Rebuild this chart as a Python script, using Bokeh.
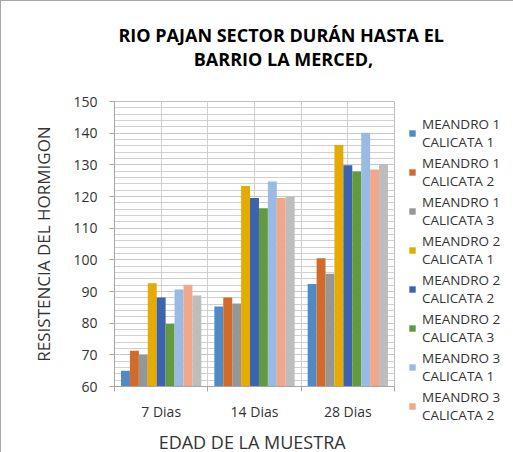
from bokeh.plotting import figure
from bokeh.models import ColumnDataSource, Range1d, FixedTicker, Legend, LegendItem, Title
from bokeh.transform import dodge
from bokeh.embed import file_html
from bokeh.resources import INLINE

title_lines = ["RIO PAJAN  SECTOR DURÁN HASTA EL", "BARRIO LA MERCED,"]
categories = ["7 Dias", "14 Dias", "28 Dias"]
series = [
    "MEANDRO 1\nCALICATA 1", "MEANDRO 1\nCALICATA 2", "MEANDRO 1\nCALICATA 3",
    "MEANDRO 2\nCALICATA 1", "MEANDRO 2\nCALICATA 2", "MEANDRO 2\nCALICATA 3",
    "MEANDRO 3\nCALICATA 1", "MEANDRO 3\nCALICATA 2", "MEANDRO 3\nCALICATA 3",
]
m1c1 = [65.0, 85.3, 92.4]
m1c2 = [71.3, 88.1, 100.5]
m1c3 = [70.0, 86.2, 95.6]
m2c1 = [92.6, 123.3, 136.3]
m2c2 = [88.1, 119.5, 129.9]
m2c3 = [79.7, 116.3, 127.9]
m3c1 = [90.6, 124.7, 140.1]
m3c2 = [92.1, 119.5, 128.5]
m3c3 = [88.7, 119.9, 130.2]
values = [m1c1, m1c2, m1c3, m2c1, m2c2, m2c3, m3c1, m3c2, m3c3]
y_ticks = list(range(60, 151, 10))
y_minor = list(range(60, 151, 2))

colors = ["#4e8ac6", "#d26b2a", "#969696", "#e5ab00", "#3b63ae",
          "#619b3e", "#99bae2", "#f0a78a", "#bdbdbd"]

FONT = "Open Sans"
TXT = "#333333"

data = {"x": [i + 0.5 for i in range(len(categories))]}
for i, v in enumerate(values):
    data["s%d" % i] = v
source = ColumnDataSource(data)

p = figure(frame_width=280, frame_height=285, output_backend="svg", toolbar_location=None,
           x_range=Range1d(0, len(categories)), y_range=Range1d(60, 150), title=None)
p.min_border_left = 113
p.min_border_right = 120
p.min_border_top = 100
p.min_border_bottom = 67
p.outline_line_color = "#bfbfbf"
p.styles = {"border-left": "1px solid #a6a6a6", "border-top": "1px solid #a6a6a6"}

bw = 0.0956
renderers = []
for i in range(len(values)):
    off = (i - (len(values) - 1) / 2) * bw
    r = p.vbar(x=dodge("x", off, range=p.x_range), top="s%d" % i, bottom=60,
               width=bw, source=source, fill_color=colors[i], line_color=None)
    renderers.append(r)

# title (two centred lines; lower one added first so it sits nearest the plot)
# padding tuple is (left, right, top, bottom)
t2 = Title(text=title_lines[1], align="center", standoff=0, vertical_align="top",
           padding=(58, 0, 0, 29),
           text_font=FONT, text_font_size="18px", text_font_style="bold",
           text_color="#000000")
p.add_layout(t2, "above")
t1 = Title(text=title_lines[0], align="center", standoff=0, vertical_align="bottom",
           padding=(58, 0, 0, 0),
           text_font=FONT, text_font_size="18px", text_font_style="bold",
           text_color="#000000")
p.add_layout(t1, "above")

# y axis
p.yaxis.ticker = FixedTicker(ticks=y_ticks, minor_ticks=y_minor)
p.yaxis.axis_label = "RESISTENCIA DEL HORMIGON"
p.yaxis.axis_label_text_font = FONT
p.yaxis.axis_label_text_font_size = "17px"
p.yaxis.axis_label_text_font_style = "normal"
p.yaxis.axis_label_text_color = TXT
p.yaxis.axis_label_standoff = 15
p.yaxis.major_label_text_font = FONT
p.yaxis.major_label_text_font_size = "14px"
p.yaxis.major_label_text_color = TXT
p.yaxis.major_label_standoff = 12
p.yaxis.major_tick_in = 0
p.yaxis.major_tick_out = 5
p.yaxis.minor_tick_line_color = None
p.yaxis.axis_line_color = "#a6a6a6"
p.yaxis.major_tick_line_color = "#a6a6a6"

# x axis
centers = [i + 0.5 for i in range(len(categories))]
bounds = list(range(len(categories) + 1))
p.xaxis.ticker = FixedTicker(ticks=centers, minor_ticks=bounds)
p.xaxis.major_label_overrides = {c: categories[i] for i, c in enumerate(centers)}
p.xaxis.axis_label = "EDAD  DE LA MUESTRA"
p.xaxis.axis_label_text_font = FONT
p.xaxis.axis_label_text_font_size = "18px"
p.xaxis.axis_label_text_font_style = "normal"
p.xaxis.axis_label_text_color = TXT
p.xaxis.axis_label_standoff = 6
p.xaxis.major_label_text_font = FONT
p.xaxis.major_label_text_font_size = "14px"
p.xaxis.major_label_text_color = TXT
p.xaxis.major_label_standoff = 10
p.xaxis.major_tick_line_color = None
p.xaxis.major_tick_in = 0
p.xaxis.major_tick_out = 0
p.xaxis.minor_tick_in = 0
p.xaxis.minor_tick_out = 5
p.xaxis.minor_tick_line_color = "#a6a6a6"
p.xaxis.axis_line_color = "#a6a6a6"

# grids
p.xgrid.ticker = FixedTicker(ticks=sorted(centers + bounds))
p.xgrid.grid_line_color = "#d0d0d0"
p.ygrid.grid_line_color = "#c8c8c8"
p.ygrid.minor_grid_line_color = "#d0d0d0"

legend = Legend(items=[LegendItem(label=series[i], renderers=[renderers[i]]) for i in range(8)],
                location="top_left")
legend.label_text_font = FONT
legend.label_text_font_size = "13.5px"
legend.label_text_line_height = 1.4
legend.label_text_color = TXT
legend.glyph_width = 8
legend.glyph_height = 8
legend.label_standoff = 6
legend.spacing = 3
legend.padding = 0
legend.margin = 14
legend.border_line_color = None
legend.background_fill_alpha = 0
p.add_layout(legend, "right")

open("out.html", "w").write(file_html(p, INLINE))
